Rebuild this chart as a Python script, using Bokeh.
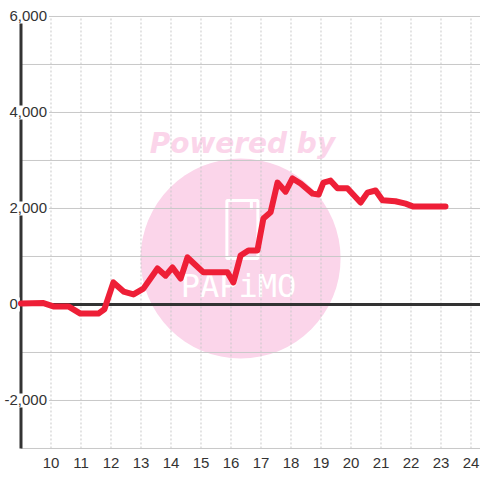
from bokeh.plotting import figure
from bokeh.models import Range1d
from bokeh.core.properties import value
from bokeh.embed import file_html
from bokeh.resources import INLINE

# ---- data ----
hours = [9.0, 9.75, 10.08, 10.58, 10.98, 11.58, 11.78, 12.08, 12.42, 12.75,
         13.08, 13.55, 13.82, 14.05, 14.32, 14.55, 15.08, 15.88, 16.08, 16.32,
         16.58, 16.88, 17.08, 17.32, 17.55, 17.82, 18.05, 18.32, 18.72, 18.92,
         19.08, 19.32, 19.55, 19.88, 20.32, 20.55, 20.82, 21.05, 21.48, 21.82,
         22.08, 23.15]
balance = [20, 30, -40, -40, -190, -190, -100, 460, 270, 210,
           330, 750, 600, 770, 540, 980, 670, 670, 460, 1020,
           1125, 1125, 1790, 1920, 2540, 2350, 2625, 2520, 2310, 2290,
           2540, 2580, 2420, 2420, 2125, 2330, 2375, 2170, 2150, 2100,
           2040, 2040]
x_ticks = list(range(10, 25))
x_tick_labels = [str(v) for v in x_ticks]
y_grid = list(range(-3000, 7000, 1000))
y_ticks = [-2000, 0, 2000, 4000, 6000]
y_tick_labels = ["-2,000", "0", "2,000", "4,000", "6,000"]

X_MIN, X_MAX = 8.317, 24.317
Y_MIN, Y_MAX = -3667, 6333
AXIS_X = 9.0
FONT = value("Liberation Sans")
LABEL_COLOR = "#333333"
GRID_COLOR = "#c8c8c8"

p = figure(width=480, height=480, output_backend="svg", toolbar_location=None,
           x_range=Range1d(X_MIN, X_MAX), y_range=Range1d(Y_MIN, Y_MAX),
           min_border=0, min_border_left=0, min_border_right=0,
           min_border_top=0, min_border_bottom=0)
p.axis.visible = False
p.grid.visible = False
p.outline_line_color = None
p.background_fill_color = "white"
p.border_fill_color = "white"

# ---- watermark ----
PINK = "#fbd5ea"
p.scatter(x=[16.32], y=[958], size=200, marker="circle",
          fill_color=PINK, line_color=None)
p.text(x=[16.38], y=[3354], text=["Powered by"], text_font=value("DejaVu Sans"),
       text_font_style="bold italic", text_font_size="28px",
       text_color=PINK, text_align="center", text_baseline="alphabetic")
p.rect(x=[16.38], y=[1562], width=31, height=58,
       width_units="screen", height_units="screen",
       fill_color=None, line_color="white", line_width=3)
p.rect(x=[16.68], y=[2090], width=3, height=10,
       width_units="screen", height_units="screen",
       fill_color="white", line_color=None)
p.text(x=[16.25], y=[375], text=["PAPiMO"], text_font=value("DejaVu Sans Mono"),
       text_font_size="32px", text_color="white",
       text_align="center", text_baseline="middle")

# ---- grid ----
hy = [v for v in y_grid if v != 0]
p.segment(x0=[AXIS_X] * len(hy), y0=hy, x1=[X_MAX] * len(hy), y1=hy,
          line_color=GRID_COLOR, line_width=1)
p.segment(x0=x_ticks, y0=[y_grid[0]] * len(x_ticks), x1=x_ticks,
          y1=[y_grid[-1]] * len(x_ticks),
          line_color=GRID_COLOR, line_width=1, line_dash="2 2")

# ---- axes lines ----
p.segment(x0=[AXIS_X], y0=[0], x1=[X_MAX], y1=[0], line_color="#333333",
          line_width=3)
p.segment(x0=[AXIS_X], y0=[y_grid[0]], x1=[AXIS_X], y1=[y_grid[-1]],
          line_color="#333333", line_width=3)

# ---- tick labels ----
p.text(x=x_ticks, y=[-3292] * len(x_ticks), text=x_tick_labels, text_font=FONT,
       text_font_size="15px", text_color=LABEL_COLOR,
       text_align="center", text_baseline="middle")
y_offsets = [-5 if t.startswith("-") else 0 for t in y_tick_labels]
p.text(x=[8.55] * len(y_ticks), y=y_ticks, text=y_tick_labels, text_font=FONT,
       text_font_size="15px", text_color=LABEL_COLOR,
       x_offset=y_offsets,
       text_align="left", text_baseline="middle",
       background_fill_color="white", padding=2)

# ---- data line ----
p.line(x=hours, y=balance, line_color="#ee1f37", line_width=6,
       line_join="round", line_cap="round")

open("out.html", "w").write(file_html(p, INLINE))
